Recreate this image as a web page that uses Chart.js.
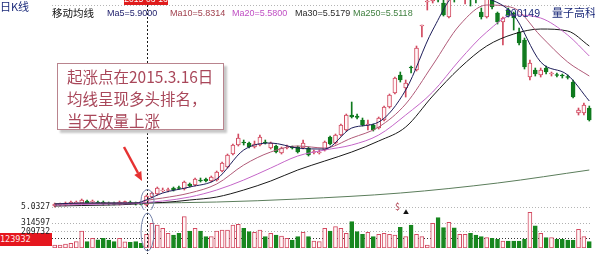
<!DOCTYPE html>
<html>
<head>
<meta charset="utf-8">
<title>300149 量子高科 日K线</title>
<script src="https://cdn.jsdelivr.net/npm/chart.js@4.4.1/dist/chart.umd.min.js"></script>
<style>
  body { margin: 0; background: #fff; }
  #stage { position: relative; width: 595px; height: 254px; overflow: hidden; background: #fff;
    font-family: "Noto Sans CJK SC", "Liberation Sans", sans-serif; }
  #stage canvas { position: absolute; left: 0; }
  #priceChart { top: 0; z-index: 2; }
  #volChart { top: 205px; z-index: 3; }
  .lbl { position: absolute; white-space: nowrap; z-index: 6; line-height: 1; }
  .ma { font-family: "Liberation Sans", Arial, sans-serif; font-size: 9px; top: 9px; }
  #volFlag { position: absolute; left: 0; top: 233px; width: 52px; height: 13px; background: #e5161e;
    z-index: 1; color: #ffe8e8; font: 8.5px "DejaVu Sans Mono", monospace; line-height: 13px; }
  #dateFlag { position: absolute; left: 124px; top: -6px; width: 44px; height: 11px; background: #e01c1c;
    color: #fff; font: 8.5px "Liberation Sans", sans-serif; line-height: 11px; text-align: center; z-index: 6; }
  #note { position: absolute; left: 57px; top: 63px; width: 167px; height: 67px; border: 1px solid #b9848e;
    box-shadow: 3px 3px 2px #c8c8c8; background: #fff; z-index: 5; color: #a9475a;
    font-size: 15.5px; line-height: 22px; padding: 1px 0 0 9px; box-sizing: border-box; }
  #arrow { position: absolute; left: 0; top: 0; z-index: 6; }
</style>
</head>
<body>
<div id="stage">
  <div id="volFlag">123932</div>
  <canvas id="priceChart" width="595" height="210"></canvas>
  <canvas id="volChart" width="595" height="49"></canvas>

  <div id="dateFlag">2015-03-16</div>
  <div class="lbl" style="left:0;top:1px;font-size:11px;color:#1b2a7a;">日K线</div>
  <div class="lbl" style="left:52px;top:8px;font-size:10.5px;color:#111;">移动均线</div>
  <div class="lbl ma" style="left:107px;color:#22226e;">Ma5=5.9000</div>
  <div class="lbl ma" style="left:170px;color:#a0404e;">Ma10=5.8314</div>
  <div class="lbl ma" style="left:232px;color:#c04ec4;">Ma20=5.5800</div>
  <div class="lbl ma" style="left:295px;color:#2a2a2a;">Ma30=5.5179</div>
  <div class="lbl ma" style="left:353px;color:#3f7f3f;">Ma250=5.5118</div>
  <div class="lbl" style="left:505px;top:8px;font-size:10.5px;color:#1b2a7a;font-family:'Liberation Sans',sans-serif;">300149</div>
  <div class="lbl" style="left:552px;top:7px;font-size:11px;color:#1b2a7a;">量子高科</div>
  <div class="lbl" style="left:395px;top:202px;font-size:9px;color:#b04050;">$</div>
  <div class="lbl" style="left:403px;top:209px;font-size:6px;color:#111;">▲</div>

  <div id="note">起涨点在2015.3.16日<br>均线呈现多头排名，<br>当天放量上涨</div>

  <svg id="arrow" width="595" height="254">
    <line x1="124" y1="147" x2="138" y2="173" stroke="#e63232" stroke-width="2.5" />
    <polygon points="142,181 134.3,174.9 141.3,171.1" fill="#e63232" />
  </svg>
</div>

<script>
"use strict";

// ---------------- data ----------------
var dates = [
  "2015-02-12", "2015-02-13", "2015-02-16", "2015-02-17", "2015-02-25", "2015-02-26", "2015-02-27",
  "2015-03-02", "2015-03-03", "2015-03-04", "2015-03-05", "2015-03-06", "2015-03-09", "2015-03-10",
  "2015-03-11", "2015-03-12", "2015-03-13", "2015-03-16", "2015-03-17", "2015-03-18", "2015-03-19",
  "2015-03-20", "2015-03-23", "2015-03-24", "2015-03-25", "2015-03-26", "2015-03-27", "2015-03-30",
  "2015-03-31", "2015-04-01", "2015-04-02", "2015-04-03", "2015-04-07", "2015-04-08", "2015-04-09",
  "2015-04-10", "2015-04-13", "2015-04-14", "2015-04-15", "2015-04-16", "2015-04-17", "2015-04-20",
  "2015-04-21", "2015-04-22", "2015-04-23", "2015-04-24", "2015-04-27", "2015-04-28", "2015-04-29",
  "2015-04-30", "2015-05-04", "2015-05-05", "2015-05-06", "2015-05-07", "2015-05-08", "2015-05-11",
  "2015-05-12", "2015-05-13", "2015-05-14", "2015-05-15", "2015-05-18", "2015-05-19", "2015-05-20",
  "2015-05-21", "2015-05-22", "2015-05-25", "2015-05-26", "2015-05-27", "2015-05-28", "2015-05-29",
  "2015-06-01", "2015-06-02", "2015-06-03", "2015-06-04", "2015-06-05", "2015-06-08", "2015-06-09",
  "2015-06-10", "2015-06-11", "2015-06-12", "2015-06-15", "2015-06-16", "2015-06-17", "2015-06-18",
  "2015-06-19", "2015-06-23", "2015-06-24", "2015-06-25", "2015-06-26", "2015-06-29", "2015-06-30",
  "2015-07-01", "2015-07-02", "2015-07-03", "2015-07-06", "2015-07-07", "2015-07-08", "2015-07-09",
  "2015-07-10", "2015-07-13"
];

var opens = [
  5.15, 5.27, 5.27, 5.39, 5.51, 5.51, 5.75, 5.63, 5.63, 5.63,
  5.51, 5.51, 5.39, 5.51, 5.63, 5.57, 5.51, 5.27, 6.23, 6.59,
  6.97, 7.01, 7.31, 7.37, 7.19, 7.79, 7.67, 8.27, 8.39, 8.15,
  8.27, 9.35, 9.83, 11.39, 12.47, 12.83, 12.71, 12.23, 12.47, 12.83,
  12.11, 12.35, 11.51, 12.11, 12.23, 12.23, 12.11, 12.11, 11.57, 11.51,
  11.87, 13.43, 12.71, 13.67, 14.27, 16.07, 15.95, 15.47, 14.87, 14.87,
  14.51, 15.47, 17.03, 18.71, 20.87, 19.31, 21.83, 21.47, 26.75, 29.63,
  29.75, 31.07, 29.51, 27.83, 31.67, 31.07, 31.31, 32.27, 30.47, 28.43,
  27.83, 29.87, 28.31, 27.23, 28.67, 28.31, 26.03, 25.07, 20.63, 21.47,
  20.87, 21.71, 20.99, 20.93, 20.87, 20.69, 20.03, 16.31, 16.31, 16.91
];
var highs = [
  5.51, 5.51, 5.63, 5.75, 5.75, 5.99, 5.87, 5.87, 5.75, 5.75,
  5.63, 5.63, 5.75, 5.75, 5.75, 5.63, 5.63, 6.47, 6.83, 7.43,
  7.31, 7.31, 7.43, 7.55, 8.15, 7.91, 8.51, 8.51, 8.51, 8.75,
  9.35, 10.43, 11.39, 12.59, 13.79, 13.07, 12.83, 12.95, 13.67, 13.07,
  12.83, 12.47, 12.23, 12.47, 12.35, 12.35, 13.07, 12.23, 11.87, 11.87,
  12.95, 13.55, 13.79, 14.99, 16.19, 17.63, 16.19, 15.71, 15.47, 14.99,
  15.83, 17.15, 18.59, 20.63, 21.23, 20.27, 21.95, 24.35, 26.87, 29.87,
  30.83, 31.31, 29.87, 30.59, 32.03, 33.23, 33.47, 32.51, 30.83, 28.91,
  30.35, 30.23, 28.43, 27.83, 28.91, 28.43, 26.51, 25.31, 22.67, 21.71,
  21.71, 21.95, 21.23, 21.11, 20.99, 20.87, 20.27, 16.91, 17.51, 17.15
];
var lows = [
  5.03, 5.15, 5.15, 5.27, 5.39, 5.39, 5.39, 5.51, 5.39, 5.27,
  5.27, 5.27, 5.27, 5.39, 5.39, 5.27, 5.27, 5.15, 6.11, 6.47,
  6.83, 6.83, 6.95, 7.13, 7.07, 7.43, 7.55, 8.03, 8.03, 8.03,
  8.15, 9.23, 9.71, 11.27, 12.35, 12.47, 12.11, 12.11, 12.35, 12.59,
  11.99, 11.51, 11.39, 11.99, 11.99, 11.51, 11.99, 11.15, 11.39, 11.39,
  11.75, 12.47, 12.59, 13.55, 14.15, 15.71, 15.59, 14.75, 14.27, 14.15,
  14.39, 15.35, 16.91, 18.59, 20.03, 18.23, 21.11, 21.35, 25.43, 28.67,
  29.51, 29.63, 27.95, 27.71, 29.63, 30.47, 29.39, 29.15, 29.51, 27.59,
  27.71, 28.79, 26.99, 24.47, 27.83, 26.27, 24.47, 21.59, 20.27, 20.75,
  20.63, 20.99, 20.75, 20.63, 20.51, 20.39, 18.11, 16.07, 16.07, 15.35
];
var closes = [
  5.39, 5.39, 5.51, 5.63, 5.63, 5.87, 5.51, 5.75, 5.51, 5.39,
  5.39, 5.33, 5.63, 5.69, 5.51, 5.39, 5.33, 6.35, 6.71, 7.31,
  7.07, 7.13, 7.07, 7.25, 8.03, 7.55, 8.39, 8.15, 8.15, 8.63,
  9.23, 10.31, 11.27, 12.47, 13.31, 12.71, 12.23, 12.59, 13.43, 12.71,
  12.71, 11.63, 12.11, 12.23, 12.11, 11.63, 12.71, 11.27, 11.69, 11.63,
  12.83, 12.59, 13.67, 14.87, 16.07, 15.83, 15.77, 14.87, 14.99, 14.27,
  15.71, 17.03, 18.47, 20.51, 20.27, 19.91, 21.71, 24.11, 26.87, 29.75,
  30.47, 29.87, 28.07, 30.23, 30.23, 32.87, 33.23, 30.47, 29.99, 27.83,
  29.99, 29.03, 27.23, 27.71, 28.07, 27.71, 24.71, 21.83, 22.31, 20.99,
  21.47, 21.23, 21.11, 20.81, 20.75, 20.57, 18.23, 16.67, 17.27, 15.47
];
var volumes = [
  38100, 38400, 51200, 59300, 80400, 216500, 80100, 123400, 102300, 122800,
  101900, 80600, 123100, 79800, 72400, 80200, 59100, 174200, 314100, 291800,
  250300, 186400, 165200, 185900, 398300, 216100, 250600, 215800, 144300, 143900,
  216400, 229100, 228700, 292400, 301200, 250100, 208300, 199100, 228900, 144200,
  186300, 165400, 153100, 123600, 102100, 144600, 198800, 144100, 89200, 80400,
  250200, 216300, 271100, 249800, 186200, 335300, 208100, 174400, 198900, 144300,
  174100, 186500, 173800, 165100, 263400, 144100, 292300, 174300, 144500, 38200,
  314300, 386100, 258200, 326400, 257900, 174100, 173900, 186200, 165300, 144200,
  131100, 123400, 110200, 89300, 88900, 89100, 89400, 114200, 453100, 280400,
  186100, 131300, 130900, 110100, 110300, 102200, 101900, 237300, 144400, 80300
];

// moving averages, read at the marked days (index into dates)
var maDays = [0, 5, 10, 15, 17, 20, 25, 30, 35, 40, 45, 50, 55, 60, 65, 70, 75, 80, 85, 90, 95, 99];
var ma5 = [5.39, 5.51, 5.51, 5.51, 5.90, 6.71, 7.43, 8.39, 11.87, 12.71, 12.11, 11.99, 14.51, 15.23,
  19.07, 26.27, 30.83, 30.11, 28.07, 22.43, 20.87, 17.75];
var ma10 = [5.39, 5.45, 5.51, 5.51, 5.83, 6.11, 6.71, 7.79, 10.07, 11.63, 12.35, 12.11, 13.31, 14.63,
  17.39, 22.07, 26.87, 29.27, 28.91, 25.55, 22.43, 20.75];
var ma20 = [5.27, 5.33, 5.39, 5.45, 5.58, 5.75, 6.23, 7.07, 8.27, 9.71, 11.15, 11.87, 12.47, 13.67,
  16.07, 18.83, 22.67, 26.03, 28.07, 27.71, 25.67, 23.15];
var ma30 = [5.15, 5.21, 5.27, 5.39, 5.52, 5.57, 5.87, 6.23, 7.07, 8.15, 9.47, 10.55, 11.63, 12.95,
  14.63, 18.35, 21.71, 24.35, 25.79, 26.39, 26.15, 24.35];
var ma250Days = [0, 17, 30, 45, 64, 82, 99];
var ma250 = [5.45, 5.51, 5.63, 5.99, 6.71, 7.91, 9.47];

var cursorIndex = 17; // 2015-03-16
var priceTicks = [5.0327, 29.27];
var priceTickLabels = ["5.0327", ""];
var volTicks = [123932, 209732, 314597];
var volTickLabels = ["", "209732", "314597"];

// ---------------- colours ----------------
var upColor = "#d24a60";
var upFill = "#fff6f7";
var downColor = "#0f7a1e";
var volDown = "#17871f";

var bodyData = [];
var wickData = [];
var bodyFill = [];
var candleColor = [];
for (var i = 0; i < dates.length; i++) {
  var up = closes[i] >= opens[i];
  bodyData.push([opens[i], closes[i]]);
  wickData.push([lows[i], highs[i]]);
  bodyFill.push(up ? upFill : downColor);
  candleColor.push(up ? upColor : downColor);
}

function maPoints(days, vals) {
  return days.map(function (d, k) {
    return { x: dates[d], y: vals[k] };
  });
}

function maLine(label, days, vals, color) {
  return {
    type: "line",
    label: label,
    data: maPoints(days, vals),
    borderColor: color,
    borderWidth: 1,
    pointRadius: 0,
    cubicInterpolationMode: "monotone",
    order: 0
  };
}

//----------- cursor line + circle plugin ------------
var cursorPlugin = {
  id: "cursor",
  afterDatasetsDraw: function (chart, args, opts) {
    var ctx = chart.ctx;
    var x = Math.round(chart.scales.x.getPixelForValue(cursorIndex)) + 0.5;
    var area = chart.chartArea;
    ctx.save();
    ctx.strokeStyle = "#1a1a1a";
    ctx.lineWidth = 1;
    ctx.setLineDash([2, 2]);
    ctx.beginPath();
    ctx.moveTo(x, opts.top);
    ctx.lineTo(x, chart.height);
    ctx.stroke();

    var cy;
    if (opts.useCandle) {
      cy = chart.scales.y.getPixelForValue((highs[cursorIndex] + lows[cursorIndex]) / 2);
    } else {
      cy = (area.top + area.bottom) / 2 + 2;
    }
    ctx.setLineDash([]);
    ctx.strokeStyle = "#7583aa";
    ctx.beginPath();
    ctx.ellipse(x, cy, opts.rx, opts.ry, 0, 0, Math.PI * 2);
    ctx.stroke();
    ctx.restore();
  }
};

function fixedWidth(scale) {
  scale.width = 52;
  scale.paddingTop = 0;
  scale.paddingBottom = 0;
}

//----------- price chart ------------
var priceChart = new Chart(document.getElementById("priceChart"), {
  type: "bar",
  data: {
    labels: dates,
    datasets: [
      maLine("MA5", maDays, ma5, "#1e1e5a"),
      maLine("MA10", maDays, ma10, "#b05a78"),
      maLine("MA20", maDays, ma20, "#c466c8"),
      maLine("MA30", maDays, ma30, "#1a1a1a"),
      maLine("MA250", ma250Days, ma250, "#5b7d5b"),
      {
        label: "body",
        data: bodyData,
        backgroundColor: bodyFill,
        borderColor: candleColor,
        borderWidth: 1,
        borderSkipped: false,
        barThickness: 4,
        grouped: false,
        order: 1
      },
      {
        label: "wick",
        data: wickData,
        backgroundColor: candleColor,
        borderWidth: 0,
        barThickness: 1,
        grouped: false,
        order: 2
      }
    ]
  },
  options: {
    responsive: false,
    animation: false,
    layout: { padding: { left: 0, right: 3, top: 0, bottom: 0 } },
    plugins: {
      legend: { display: false },
      tooltip: { enabled: false },
      cursor: { top: 5, rx: 6.5, ry: 11, useCandle: true }
    },
    scales: {
      x: { display: false, offset: true },
      y: {
        min: 4.6727,
        max: 29.8727,
        afterFit: fixedWidth,
        afterBuildTicks: function (scale) {
          scale.ticks = priceTicks.map(function (v) { return { value: v }; });
        },
        ticks: {
          padding: 2,
          color: "#222",
          font: { family: "DejaVu Sans Mono", size: 8 },
          callback: function (value, index) { return priceTickLabels[index]; }
        },
        grid: { color: "#b5b5b5", drawTicks: false },
        border: { display: false, dash: [1, 2] }
      }
    }
  },
  plugins: [cursorPlugin]
});

//----------- volume chart ------------
var volChart = new Chart(document.getElementById("volChart"), {
  type: "bar",
  data: {
    labels: dates,
    datasets: [
      {
        label: "volume",
        data: volumes,
        backgroundColor: closes.map(function (c, k) { return c >= opens[k] ? upFill : volDown; }),
        borderColor: closes.map(function (c, k) { return c >= opens[k] ? upColor : volDown; }),
        borderWidth: 1,
        borderSkipped: false,
        barThickness: 4
      }
    ]
  },
  options: {
    responsive: false,
    animation: false,
    layout: { padding: { left: 0, right: 3, top: 7, bottom: 6 } },
    plugins: {
      legend: { display: false },
      tooltip: { enabled: false },
      cursor: { top: 0, rx: 6.5, ry: 19, useCandle: false }
    },
    scales: {
      x: { display: false, offset: true },
      y: {
        min: 0,
        max: 457600,
        afterFit: fixedWidth,
        afterBuildTicks: function (scale) {
          scale.ticks = volTicks.map(function (v) { return { value: v }; });
        },
        ticks: {
          padding: 2,
          color: "#222",
          font: { family: "DejaVu Sans Mono", size: 8 },
          callback: function (value, index) { return volTickLabels[index]; }
        },
        grid: {
          color: function (ctx) {
            return ctx.tick && ctx.tick.value === 123932 ? "#333" : "#b0b0b0";
          },
          drawTicks: false
        },
        border: { display: false, dash: [1, 2] }
      }
    }
  },
  plugins: [cursorPlugin]
});
</script>
</body>
</html>
